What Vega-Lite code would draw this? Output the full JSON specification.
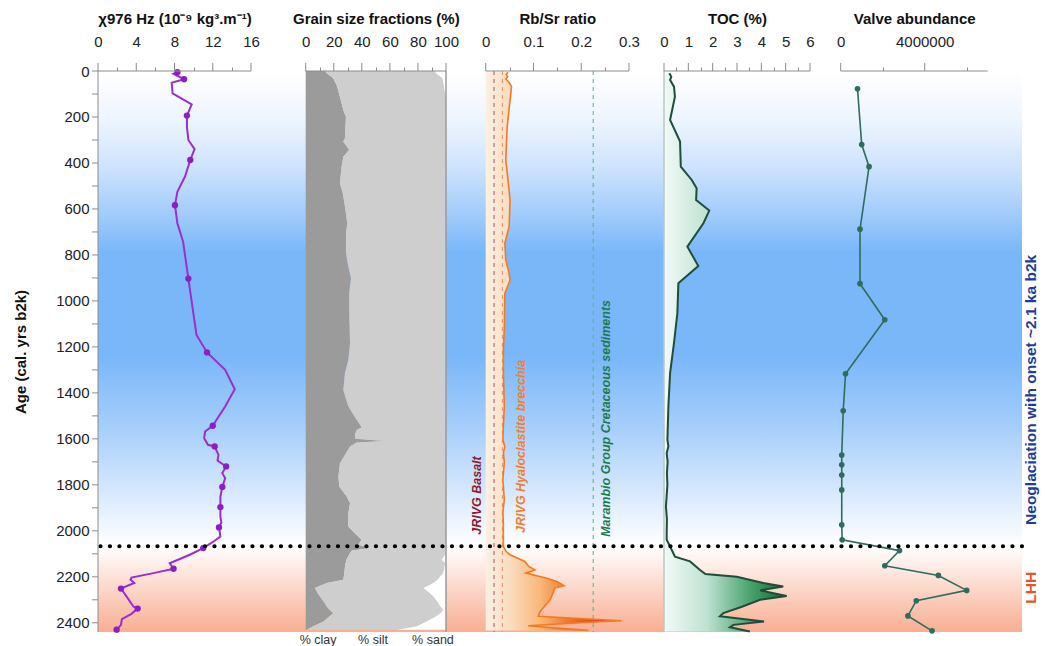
{
  "$schema": "https://vega.github.io/schema/vega-lite/v6.json",
  "width": 924,
  "height": 561,
  "autosize": {"type": "none"},
  "padding": {"left": 98, "top": 71, "right": 23, "bottom": 14},
  "background": "white",
  "config": {
    "font": "Liberation Sans",
    "view": {"stroke": null},
    "axis": {
      "grid": false,
      "zindex": 1,
      "domainColor": "#8c8c8c",
      "tickColor": "#8c8c8c",
      "labelFontSize": 15,
      "labelColor": "#222222",
      "titleFontSize": 15,
      "titleFontWeight": "bold",
      "titleColor": "#111111",
      "labelFlush": false
    }
  },
  "datasets": {
    "zones": [
      {"zone": "Neoglaciation", "start": 0, "end": 2067},
      {"zone": "LHH", "start": 2067, "end": 2440}
    ],
    "chi_line": [
      {"age": 5, "chi": 8.3}, {"age": 12, "chi": 7.9}, {"age": 36, "chi": 9.0}, {"age": 51, "chi": 7.7},
      {"age": 97, "chi": 7.8}, {"age": 145, "chi": 9.8}, {"age": 194, "chi": 9.3}, {"age": 242, "chi": 9.3},
      {"age": 300, "chi": 9.45}, {"age": 340, "chi": 10.1}, {"age": 387, "chi": 9.65}, {"age": 459, "chi": 9.1},
      {"age": 525, "chi": 8.3}, {"age": 584, "chi": 8.05}, {"age": 662, "chi": 8.3}, {"age": 742, "chi": 8.9},
      {"age": 903, "chi": 9.45}, {"age": 1148, "chi": 10.3}, {"age": 1224, "chi": 11.4}, {"age": 1300, "chi": 13.3},
      {"age": 1384, "chi": 14.3}, {"age": 1459, "chi": 13.3}, {"age": 1510, "chi": 12.5}, {"age": 1543, "chi": 12.0},
      {"age": 1568, "chi": 11.2}, {"age": 1597, "chi": 11.1}, {"age": 1626, "chi": 11.5}, {"age": 1633, "chi": 12.2},
      {"age": 1670, "chi": 12.6}, {"age": 1694, "chi": 12.5}, {"age": 1720, "chi": 13.4}, {"age": 1749, "chi": 13.0},
      {"age": 1771, "chi": 13.3}, {"age": 1809, "chi": 13.0}, {"age": 1851, "chi": 12.8}, {"age": 1897, "chi": 12.8},
      {"age": 1938, "chi": 12.8}, {"age": 1964, "chi": 12.9}, {"age": 1985, "chi": 12.65}, {"age": 2025, "chi": 12.8},
      {"age": 2043, "chi": 12.2}, {"age": 2075, "chi": 11.0}, {"age": 2104, "chi": 9.6}, {"age": 2141, "chi": 7.5},
      {"age": 2165, "chi": 7.9}, {"age": 2184, "chi": 5.8}, {"age": 2203, "chi": 3.5}, {"age": 2213, "chi": 3.4},
      {"age": 2227, "chi": 3.8}, {"age": 2251, "chi": 2.4}, {"age": 2286, "chi": 3.0}, {"age": 2329, "chi": 3.7},
      {"age": 2338, "chi": 4.15}, {"age": 2361, "chi": 3.5}, {"age": 2384, "chi": 2.5}, {"age": 2409, "chi": 2.4},
      {"age": 2430, "chi": 1.95}
    ],
    "chi_samples": [
      {"age": 5, "chi": 8.3}, {"age": 36, "chi": 9.0}, {"age": 194, "chi": 9.3}, {"age": 387, "chi": 9.65},
      {"age": 584, "chi": 8.05}, {"age": 903, "chi": 9.45}, {"age": 1224, "chi": 11.4}, {"age": 1543, "chi": 12.0},
      {"age": 1633, "chi": 12.2}, {"age": 1720, "chi": 13.4}, {"age": 1809, "chi": 13.0}, {"age": 1897, "chi": 12.8},
      {"age": 1985, "chi": 12.65}, {"age": 2075, "chi": 11.0}, {"age": 2165, "chi": 7.9}, {"age": 2251, "chi": 2.4},
      {"age": 2338, "chi": 4.15}, {"age": 2430, "chi": 1.95}
    ],
    "grain": [
      {"age": 0, "clay": 14, "silt": 78, "sand": 8},
      {"age": 10, "clay": 15, "silt": 78, "sand": 7},
      {"age": 30, "clay": 19.5, "silt": 78, "sand": 2.5},
      {"age": 60, "clay": 22, "silt": 76.5, "sand": 1.5},
      {"age": 80, "clay": 23, "silt": 76, "sand": 1},
      {"age": 112, "clay": 24.4, "silt": 75.6, "sand": 0},
      {"age": 170, "clay": 26.8, "silt": 73.2, "sand": 0},
      {"age": 199, "clay": 28.7, "silt": 71.3, "sand": 0},
      {"age": 293, "clay": 28, "silt": 72, "sand": 0},
      {"age": 307, "clay": 26.8, "silt": 73.2, "sand": 0},
      {"age": 343, "clay": 31, "silt": 69, "sand": 0},
      {"age": 373, "clay": 26.8, "silt": 73.2, "sand": 0},
      {"age": 416, "clay": 25.6, "silt": 74.4, "sand": 0},
      {"age": 488, "clay": 24.4, "silt": 75.6, "sand": 0},
      {"age": 532, "clay": 26.4, "silt": 73.6, "sand": 0},
      {"age": 590, "clay": 28, "silt": 72, "sand": 0},
      {"age": 662, "clay": 29.6, "silt": 70.4, "sand": 0},
      {"age": 706, "clay": 28.7, "silt": 71.3, "sand": 0},
      {"age": 793, "clay": 28.7, "silt": 71.3, "sand": 0},
      {"age": 851, "clay": 30.4, "silt": 69.6, "sand": 0},
      {"age": 901, "clay": 32.3, "silt": 67.7, "sand": 0},
      {"age": 966, "clay": 31, "silt": 69, "sand": 0},
      {"age": 1053, "clay": 31, "silt": 69, "sand": 0},
      {"age": 1184, "clay": 31.6, "silt": 68.4, "sand": 0},
      {"age": 1256, "clay": 30.4, "silt": 69.6, "sand": 0},
      {"age": 1314, "clay": 28, "silt": 72, "sand": 0},
      {"age": 1387, "clay": 26.8, "silt": 73.2, "sand": 0},
      {"age": 1459, "clay": 30.4, "silt": 69.6, "sand": 0},
      {"age": 1517, "clay": 36.3, "silt": 63.7, "sand": 0},
      {"age": 1549, "clay": 39.9, "silt": 60.1, "sand": 0},
      {"age": 1561, "clay": 36.3, "silt": 63.7, "sand": 0},
      {"age": 1583, "clay": 35, "silt": 65, "sand": 0},
      {"age": 1600, "clay": 35.5, "silt": 64.5, "sand": 0},
      {"age": 1609, "clay": 56.4, "silt": 43.6, "sand": 0},
      {"age": 1616, "clay": 36.3, "silt": 63.7, "sand": 0},
      {"age": 1633, "clay": 31.6, "silt": 68.4, "sand": 0},
      {"age": 1706, "clay": 24.4, "silt": 75.6, "sand": 0},
      {"age": 1764, "clay": 23.3, "silt": 76.7, "sand": 0},
      {"age": 1807, "clay": 23.9, "silt": 76.1, "sand": 0},
      {"age": 1851, "clay": 29.2, "silt": 70.8, "sand": 0},
      {"age": 1880, "clay": 31.6, "silt": 68.4, "sand": 0},
      {"age": 1923, "clay": 30.4, "silt": 69.6, "sand": 0},
      {"age": 1981, "clay": 30.4, "silt": 69.6, "sand": 0},
      {"age": 2010, "clay": 35, "silt": 65, "sand": 0},
      {"age": 2039, "clay": 39.9, "silt": 60.1, "sand": 0},
      {"age": 2061, "clay": 37.5, "silt": 62.5, "sand": 0},
      {"age": 2075, "clay": 47, "silt": 53, "sand": 0},
      {"age": 2085, "clay": 33, "silt": 67, "sand": 0},
      {"age": 2097, "clay": 31.6, "silt": 68.4, "sand": 0},
      {"age": 2126, "clay": 29, "silt": 68, "sand": 3},
      {"age": 2140, "clay": 28.5, "silt": 71, "sand": 0.5},
      {"age": 2155, "clay": 28, "silt": 71, "sand": 1},
      {"age": 2184, "clay": 27.5, "silt": 70.5, "sand": 2},
      {"age": 2213, "clay": 26.8, "silt": 67.2, "sand": 6},
      {"age": 2227, "clay": 15, "silt": 76, "sand": 9},
      {"age": 2249, "clay": 6.6, "silt": 77.4, "sand": 16},
      {"age": 2271, "clay": 8.5, "silt": 80.1, "sand": 11.4},
      {"age": 2286, "clay": 10.2, "silt": 80.8, "sand": 9},
      {"age": 2314, "clay": 13.5, "silt": 81, "sand": 5.5},
      {"age": 2329, "clay": 15, "silt": 81, "sand": 4},
      {"age": 2343, "clay": 17, "silt": 81, "sand": 2},
      {"age": 2358, "clay": 19.7, "silt": 76.3, "sand": 4},
      {"age": 2372, "clay": 17, "silt": 76, "sand": 7},
      {"age": 2394, "clay": 12.6, "silt": 73.4, "sand": 14},
      {"age": 2416, "clay": 5, "silt": 74, "sand": 21},
      {"age": 2430, "clay": 0.7, "silt": 64.3, "sand": 35}
    ],
    "rbsr": [
      {"age": 5, "rbsr": 0.047}, {"age": 15, "rbsr": 0.043}, {"age": 25, "rbsr": 0.046}, {"age": 35, "rbsr": 0.042},
      {"age": 50, "rbsr": 0.049}, {"age": 68, "rbsr": 0.054}, {"age": 126, "rbsr": 0.051}, {"age": 242, "rbsr": 0.045},
      {"age": 387, "rbsr": 0.042}, {"age": 480, "rbsr": 0.047}, {"age": 561, "rbsr": 0.051}, {"age": 677, "rbsr": 0.049},
      {"age": 749, "rbsr": 0.04}, {"age": 822, "rbsr": 0.042}, {"age": 880, "rbsr": 0.049}, {"age": 909, "rbsr": 0.051},
      {"age": 967, "rbsr": 0.04}, {"age": 1112, "rbsr": 0.039}, {"age": 1213, "rbsr": 0.037}, {"age": 1314, "rbsr": 0.037},
      {"age": 1459, "rbsr": 0.039}, {"age": 1540, "rbsr": 0.037}, {"age": 1604, "rbsr": 0.036}, {"age": 1633, "rbsr": 0.04},
      {"age": 1662, "rbsr": 0.037}, {"age": 1700, "rbsr": 0.039}, {"age": 1778, "rbsr": 0.036}, {"age": 1865, "rbsr": 0.039},
      {"age": 1920, "rbsr": 0.036}, {"age": 1967, "rbsr": 0.037}, {"age": 2040, "rbsr": 0.037}, {"age": 2068, "rbsr": 0.037},
      {"age": 2090, "rbsr": 0.043}, {"age": 2104, "rbsr": 0.051}, {"age": 2133, "rbsr": 0.082}, {"age": 2155, "rbsr": 0.09},
      {"age": 2170, "rbsr": 0.103}, {"age": 2184, "rbsr": 0.084}, {"age": 2206, "rbsr": 0.128}, {"age": 2220, "rbsr": 0.149},
      {"age": 2239, "rbsr": 0.164}, {"age": 2249, "rbsr": 0.145}, {"age": 2300, "rbsr": 0.135}, {"age": 2351, "rbsr": 0.114},
      {"age": 2372, "rbsr": 0.11}, {"age": 2381, "rbsr": 0.197}, {"age": 2391, "rbsr": 0.284}, {"age": 2400, "rbsr": 0.197},
      {"age": 2413, "rbsr": 0.089}, {"age": 2423, "rbsr": 0.149}, {"age": 2433, "rbsr": 0.215}
    ],
    "toc": [
      {"age": 10, "toc": 0.22}, {"age": 25, "toc": 0.3}, {"age": 39, "toc": 0.25}, {"age": 68, "toc": 0.41},
      {"age": 112, "toc": 0.45}, {"age": 213, "toc": 0.25}, {"age": 307, "toc": 0.66}, {"age": 416, "toc": 0.69},
      {"age": 474, "toc": 1.14}, {"age": 510, "toc": 1.34}, {"age": 561, "toc": 1.32}, {"age": 607, "toc": 1.86},
      {"age": 662, "toc": 1.62}, {"age": 764, "toc": 0.96}, {"age": 848, "toc": 1.41}, {"age": 923, "toc": 0.59},
      {"age": 1053, "toc": 0.55}, {"age": 1184, "toc": 0.41}, {"age": 1314, "toc": 0.25}, {"age": 1459, "toc": 0.18},
      {"age": 1604, "toc": 0.14}, {"age": 1633, "toc": 0.18}, {"age": 1662, "toc": 0.11}, {"age": 1700, "toc": 0.15},
      {"age": 1749, "toc": 0.12}, {"age": 1800, "toc": 0.14}, {"age": 1894, "toc": 0.08}, {"age": 1950, "toc": 0.12},
      {"age": 2010, "toc": 0.11}, {"age": 2039, "toc": 0.11}, {"age": 2068, "toc": 0.25}, {"age": 2090, "toc": 0.35},
      {"age": 2112, "toc": 0.45}, {"age": 2133, "toc": 1.07}, {"age": 2170, "toc": 1.48}, {"age": 2188, "toc": 1.7},
      {"age": 2200, "toc": 2.99}, {"age": 2227, "toc": 4.08}, {"age": 2242, "toc": 4.9}, {"age": 2259, "toc": 3.95},
      {"age": 2283, "toc": 5.04}, {"age": 2300, "toc": 3.95}, {"age": 2330, "toc": 3.2}, {"age": 2358, "toc": 2.44},
      {"age": 2372, "toc": 2.3}, {"age": 2394, "toc": 4.11}, {"age": 2409, "toc": 2.85}, {"age": 2419, "toc": 2.71},
      {"age": 2438, "toc": 3.53}
    ],
    "valves": [
      {"age": 77, "valves": 800000}, {"age": 320, "valves": 1000000}, {"age": 416, "valves": 1350000},
      {"age": 688, "valves": 920000}, {"age": 925, "valves": 920000}, {"age": 1082, "valves": 2100000},
      {"age": 1317, "valves": 230000}, {"age": 1478, "valves": 120000}, {"age": 1670, "valves": 50000},
      {"age": 1713, "valves": 50000}, {"age": 1757, "valves": 50000}, {"age": 1822, "valves": 50000},
      {"age": 1974, "valves": 50000}, {"age": 2039, "valves": 70000}, {"age": 2086, "valves": 2800000},
      {"age": 2152, "valves": 2100000}, {"age": 2194, "valves": 4650000}, {"age": 2259, "valves": 6000000},
      {"age": 2304, "valves": 3600000}, {"age": 2370, "valves": 3200000}, {"age": 2435, "valves": 4350000}
    ],
    "age_ticks": [
      {"tick": 0}, {"tick": 100}, {"tick": 200}, {"tick": 300}, {"tick": 400}, {"tick": 500}, {"tick": 600},
      {"tick": 700}, {"tick": 800}, {"tick": 900}, {"tick": 1000}, {"tick": 1100}, {"tick": 1200}, {"tick": 1300},
      {"tick": 1400}, {"tick": 1500}, {"tick": 1600}, {"tick": 1700}, {"tick": 1800}, {"tick": 1900}, {"tick": 2000},
      {"tick": 2100}, {"tick": 2200}, {"tick": 2300}, {"tick": 2400}
    ]
  },
  "resolve": {"scale": {"x": "independent"}, "axis": {"y": "independent"}},
  "layer": [
    {
      "data": {"name": "zones"},
      "transform": [{"filter": "datum.zone === 'Neoglaciation'"}],
      "mark": {"type": "rect", "color": {"gradient": "linear", "x1": 0, "y1": 0, "x2": 0, "y2": 1, "stops": [
        {"offset": 0, "color": "#ffffff"}, {"offset": 0.1, "color": "#eef5fe"}, {"offset": 0.2, "color": "#cfe4fd"},
        {"offset": 0.3, "color": "#a2ccfb"}, {"offset": 0.38, "color": "#7ab7f9"}, {"offset": 0.6, "color": "#7ab7f9"},
        {"offset": 0.75, "color": "#a6cefb"}, {"offset": 0.9, "color": "#dcebfd"}, {"offset": 1, "color": "#ffffff"}]}},
      "encoding": {
        "y": {"field": "start", "type": "quantitative",
          "scale": {"domain": [0, 2440], "reverse": true, "nice": false, "zero": false},
          "axis": {"orient": "left", "values": [0,200,400,600,800,1000,1200,1400,1600,1800,2000,2200,2400],
            "format": "d", "ticks": false, "domain": false, "labelPadding": 9, "title": "Age (cal. yrs b2k)", "titlePadding": 27}},
        "y2": {"field": "end"}
      }
    },
    {
      "data": {"name": "zones"},
      "transform": [{"filter": "datum.zone === 'LHH'"}],
      "mark": {"type": "rect", "color": {"gradient": "linear", "x1": 0, "y1": 0, "x2": 0, "y2": 1, "stops": [
        {"offset": 0, "color": "#ffffff"}, {"offset": 1, "color": "#f8ae92"}]}},
      "encoding": {
        "y": {"field": "start", "type": "quantitative", "axis": null},
        "y2": {"field": "end"}
      }
    },
    {
      "data": {"name": "chi_line"},
      "mark": {"type": "line", "color": "#9a2ed1", "strokeWidth": 2},
      "encoding": {
        "y": {"field": "age", "type": "quantitative", "axis": null},
        "x": {"field": "chi", "type": "quantitative", "scale": {"domain": [0, 16], "range": [0, 153], "nice": false},
          "axis": {"orient": "top", "values": [2, 6, 10, 14], "tickSize": 4, "labels": false, "domain": false, "title": null}},
        "order": {"field": "age", "type": "quantitative"}
      }
    },
    {
      "data": {"name": "chi_samples"},
      "mark": {"type": "point", "filled": true, "color": "#8a1fc4", "size": 40, "opacity": 1},
      "encoding": {
        "y": {"field": "age", "type": "quantitative", "axis": null},
        "x": {"field": "chi", "type": "quantitative", "scale": {"domain": [0, 16], "range": [0, 153], "nice": false},
          "axis": {"orient": "top", "values": [0, 4, 8, 12, 16], "ticks": false, "domain": false, "labelPadding": 22,
            "title": "χ976 Hz (10⁻⁹ kg³.m⁻¹)", "titlePadding": 8}}
      }
    },
    {
      "data": {"name": "grain"},
      "transform": [
        {"fold": ["clay", "silt", "sand"], "as": ["fraction", "pct"]},
        {"stack": "pct", "groupby": ["age"], "as": ["x0", "x1"]}
      ],
      "mark": {"type": "area", "orient": "horizontal"},
      "encoding": {
        "y": {"field": "age", "type": "quantitative", "axis": null},
        "x": {"field": "x0", "type": "quantitative", "stack": null, "scale": {"domain": [0, 100], "range": [207.7, 348], "nice": false},
          "axis": {"orient": "top", "values": [0, 20, 40, 60, 80, 100], "ticks": false, "domain": false, "labelPadding": 22, "labelOverlap": false,
            "title": "Grain size fractions (%)", "titlePadding": 8}},
        "x2": {"field": "x1"},
        "color": {"field": "fraction", "type": "nominal", "scale": {"domain": ["clay", "silt", "sand"], "range": ["#9b9b9b", "#cecece", "#ffffff"]}, "legend": null}
      }
    },
    {
      "data": {"values": [{}]},
      "mark": {"type": "rule", "color": "#9a9a9a", "strokeWidth": 1.5},
      "encoding": {
        "x": {"datum": 100, "type": "quantitative", "scale": {"domain": [0, 100], "range": [207.7, 348], "nice": false},
          "axis": {"orient": "top", "values": [10, 30, 50, 70, 90], "tickSize": 4, "labels": false, "domain": false, "title": null}}
      }
    },
    {
      "data": {"name": "rbsr"},
      "mark": {"type": "area", "orient": "horizontal", "color": {"gradient": "linear", "x1": 0, "y1": 0, "x2": 1, "y2": 0, "stops": [
        {"offset": 0, "color": "#fdf0e2"}, {"offset": 0.18, "color": "#fbdcbf"}, {"offset": 0.4, "color": "#f8b878"},
        {"offset": 0.6, "color": "#ee7a35"}, {"offset": 1, "color": "#c41e0e"}]}},
      "encoding": {
        "y": {"field": "age", "type": "quantitative", "axis": null},
        "x": {"field": "rbsr", "type": "quantitative", "stack": null, "scale": {"domain": [0, 0.3], "range": [387.7, 531], "nice": false, "zero": true},
          "axis": {"orient": "top", "values": [0, 0.1, 0.2, 0.3], "labelExpr": "datum.value == 0 ? '0' : format(datum.value, '.1f')", "ticks": false, "domain": false, "labelPadding": 22,
            "title": "Rb/Sr ratio", "titlePadding": 8}}
      }
    },
    {
      "data": {"values": [{}]},
      "mark": {"type": "rule", "color": "#b8506a", "strokeWidth": 1, "strokeDash": [4, 4]},
      "encoding": {
        "x": {"datum": 0.0174, "type": "quantitative", "scale": {"domain": [0, 0.3], "range": [387.7, 531], "nice": false},
          "axis": {"orient": "top", "values": [0.05, 0.15, 0.25], "tickSize": 4, "labels": false, "domain": false, "title": null}}
      }
    },
    {
      "data": {"values": [{}]},
      "mark": {"type": "rule", "color": "#e8906e", "strokeWidth": 1, "strokeDash": [4, 4]},
      "encoding": {
        "x": {"datum": 0.035, "type": "quantitative", "scale": {"domain": [0, 0.3], "range": [387.7, 531], "nice": false}, "axis": null}
      }
    },
    {
      "data": {"values": [{}]},
      "mark": {"type": "rule", "color": "#5aae8a", "strokeWidth": 1, "strokeDash": [4, 4]},
      "encoding": {
        "x": {"datum": 0.225, "type": "quantitative", "scale": {"domain": [0, 0.3], "range": [387.7, 531], "nice": false}, "axis": null}
      }
    },
    {
      "data": {"name": "rbsr"},
      "mark": {"type": "line", "color": "#f47a1f", "strokeWidth": 1.6},
      "encoding": {
        "y": {"field": "age", "type": "quantitative", "axis": null},
        "x": {"field": "rbsr", "type": "quantitative", "scale": {"domain": [0, 0.3], "range": [387.7, 531], "nice": false}, "axis": null},
        "order": {"field": "age", "type": "quantitative"}
      }
    },
    {
      "data": {"values": [{}]},
      "mark": {"type": "text", "text": "JRIVG Basalt", "angle": 270, "align": "left", "baseline": "middle", "fontSize": 12.5, "fontWeight": "bold", "fontStyle": "italic", "color": "#8b1c2c"},
      "encoding": {
        "x": {"datum": -0.0176, "type": "quantitative", "scale": {"domain": [0, 0.3], "range": [387.7, 531], "nice": false}, "axis": null},
        "y": {"datum": 2017, "type": "quantitative", "axis": null}
      }
    },
    {
      "data": {"values": [{}]},
      "mark": {"type": "text", "text": "JRIVG Hyaloclastite brecchia", "angle": 270, "align": "left", "baseline": "middle", "fontSize": 12.5, "fontWeight": "bold", "fontStyle": "italic", "color": "#f08030"},
      "encoding": {
        "x": {"datum": 0.073, "type": "quantitative", "scale": {"domain": [0, 0.3], "range": [387.7, 531], "nice": false}, "axis": null},
        "y": {"datum": 2009, "type": "quantitative", "axis": null}
      }
    },
    {
      "data": {"values": [{}]},
      "mark": {"type": "text", "text": "Marambio Group Cretaceous sediments", "angle": 270, "align": "left", "baseline": "middle", "fontSize": 12.5, "fontWeight": "bold", "fontStyle": "italic", "color": "#1e7a50"},
      "encoding": {
        "x": {"datum": 0.2517, "type": "quantitative", "scale": {"domain": [0, 0.3], "range": [387.7, 531], "nice": false}, "axis": null},
        "y": {"datum": 2026, "type": "quantitative", "axis": null}
      }
    },
    {
      "data": {"name": "toc"},
      "mark": {"type": "area", "orient": "horizontal", "color": {"gradient": "linear", "x1": 0, "y1": 0, "x2": 1, "y2": 0, "stops": [
        {"offset": 0, "color": "#f2faf8"}, {"offset": 0.35, "color": "#bfe2d1"}, {"offset": 0.7, "color": "#4aa36f"}, {"offset": 1, "color": "#0b6a2c"}]}},
      "encoding": {
        "y": {"field": "age", "type": "quantitative", "axis": null},
        "x": {"field": "toc", "type": "quantitative", "stack": null, "scale": {"domain": [0, 6], "range": [566, 712], "nice": false, "zero": true},
          "axis": {"orient": "top", "values": [0.5, 1.5, 2.5, 3.5, 4.5, 5.5], "tickSize": 4, "labels": false, "domain": false, "title": null}}
      }
    },
    {
      "data": {"values": [{}]},
      "mark": {"type": "rule", "color": "#b9c9c5", "strokeWidth": 1.5},
      "encoding": {
        "x": {"datum": 0, "type": "quantitative", "scale": {"domain": [0, 6], "range": [566, 712], "nice": false},
          "axis": {"orient": "top", "values": [0, 1, 2, 3, 4, 5, 6], "ticks": false, "domain": false, "labelPadding": 22,
            "title": "TOC (%)", "titlePadding": 8}}
      }
    },
    {
      "data": {"name": "toc"},
      "mark": {"type": "line", "color": "#1e4d3c", "strokeWidth": 2},
      "encoding": {
        "y": {"field": "age", "type": "quantitative", "axis": null},
        "x": {"field": "toc", "type": "quantitative", "scale": {"domain": [0, 6], "range": [566, 712], "nice": false}, "axis": null},
        "order": {"field": "age", "type": "quantitative"}
      }
    },
    {
      "data": {"name": "valves"},
      "mark": {"type": "line", "color": "#2f6b5f", "strokeWidth": 1.6, "point": {"filled": true, "size": 32, "color": "#2f6b5f"}},
      "encoding": {
        "y": {"field": "age", "type": "quantitative", "axis": null},
        "x": {"field": "valves", "type": "quantitative", "scale": {"domain": [0, 7000000], "range": [742.7, 889.7], "nice": false},
          "axis": {"orient": "top", "values": [0, 4000000], "format": "d", "ticks": false, "domain": false, "labelPadding": 22,
            "title": "Valve abundance", "titlePadding": 8}},
        "order": {"field": "age", "type": "quantitative"}
      }
    },
    {
      "data": {"values": [{}]},
      "mark": {"type": "text", "text": "Neoglaciation with onset ~2.1 ka b2k", "angle": 270, "align": "center", "baseline": "middle", "fontSize": 15.5, "fontWeight": "bold", "color": "#1c3c9e"},
      "encoding": {
        "x": {"datum": 9060000, "type": "quantitative", "scale": {"domain": [0, 7000000], "range": [742.7, 889.7], "nice": false},
          "axis": {"orient": "top", "values": [2000000, 6000000], "tickSize": 4, "labels": false, "domain": false, "title": null}},
        "y": {"datum": 1387, "type": "quantitative", "axis": null}
      }
    },
    {
      "data": {"values": [{}]},
      "mark": {"type": "text", "text": "LHH", "angle": 270, "align": "center", "baseline": "middle", "fontSize": 15.5, "fontWeight": "bold", "color": "#e8522a"},
      "encoding": {
        "x": {"datum": 9060000, "type": "quantitative", "scale": {"domain": [0, 7000000], "range": [742.7, 889.7], "nice": false}, "axis": null},
        "y": {"datum": 2248, "type": "quantitative", "axis": null}
      }
    },
    {
      "data": {"values": [{}]},
      "mark": {"type": "rule", "color": "#000000", "strokeWidth": 4.2, "strokeDash": [0.1, 9.4], "strokeCap": "round"},
      "encoding": {"y": {"datum": 2067, "type": "quantitative", "axis": null}}
    },
    {
      "data": {"values": [{}]},
      "mark": {"type": "rule", "color": "#8c8c8c", "strokeWidth": 1},
      "encoding": {
        "x": {"datum": 0, "type": "quantitative", "scale": {"domain": [0, 16], "range": [0, 153], "nice": false}, "axis": null}
      }
    },
    {
      "data": {"name": "age_ticks"},
      "mark": {"type": "rule", "color": "#8c8c8c", "strokeWidth": 1},
      "encoding": {
        "y": {"field": "tick", "type": "quantitative", "axis": null},
        "x": {"datum": -0.63, "type": "quantitative", "scale": {"domain": [0, 16], "range": [0, 153], "nice": false}, "axis": null},
        "x2": {"datum": 0}
      }
    },
    {
      "data": {"values": [{"tick": 0}, {"tick": 4}, {"tick": 8}, {"tick": 12}, {"tick": 16}]},
      "mark": {"type": "rule", "color": "#8c8c8c", "strokeWidth": 1},
      "encoding": {
        "x": {"field": "tick", "type": "quantitative", "scale": {"domain": [0, 16], "range": [0, 153], "nice": false}, "axis": null},
        "y": {"datum": -35, "type": "quantitative", "axis": null},
        "y2": {"datum": 0}
      }
    },
    {
      "data": {"values": [{}]},
      "mark": {"type": "rule", "color": "#8c8c8c", "strokeWidth": 1},
      "encoding": {
        "x": {"datum": 0, "type": "quantitative", "scale": {"domain": [0, 16], "range": [0, 153], "nice": false}, "axis": null},
        "x2": {"datum": 16},
        "y": {"datum": 0, "type": "quantitative", "axis": null}
      }
    },
    {
      "data": {"values": [{"tick": 0}, {"tick": 20}, {"tick": 40}, {"tick": 60}, {"tick": 80}, {"tick": 100}]},
      "mark": {"type": "rule", "color": "#8c8c8c", "strokeWidth": 1},
      "encoding": {
        "x": {"field": "tick", "type": "quantitative", "scale": {"domain": [0, 100], "range": [207.7, 348], "nice": false}, "axis": null},
        "y": {"datum": -35, "type": "quantitative", "axis": null},
        "y2": {"datum": 0}
      }
    },
    {
      "data": {"values": [{}]},
      "mark": {"type": "rule", "color": "#8c8c8c", "strokeWidth": 1},
      "encoding": {
        "x": {"datum": 0, "type": "quantitative", "scale": {"domain": [0, 100], "range": [207.7, 348], "nice": false}, "axis": null},
        "x2": {"datum": 100},
        "y": {"datum": 0, "type": "quantitative", "axis": null}
      }
    },
    {
      "data": {"values": [{"tick": 0}, {"tick": 0.1}, {"tick": 0.2}, {"tick": 0.3}]},
      "mark": {"type": "rule", "color": "#8c8c8c", "strokeWidth": 1},
      "encoding": {
        "x": {"field": "tick", "type": "quantitative", "scale": {"domain": [0, 0.3], "range": [387.7, 531], "nice": false}, "axis": null},
        "y": {"datum": -35, "type": "quantitative", "axis": null},
        "y2": {"datum": 0}
      }
    },
    {
      "data": {"values": [{}]},
      "mark": {"type": "rule", "color": "#8c8c8c", "strokeWidth": 1},
      "encoding": {
        "x": {"datum": 0, "type": "quantitative", "scale": {"domain": [0, 0.3], "range": [387.7, 531], "nice": false}, "axis": null},
        "x2": {"datum": 0.3},
        "y": {"datum": 0, "type": "quantitative", "axis": null}
      }
    },
    {
      "data": {"values": [{"tick": 0}, {"tick": 1}, {"tick": 2}, {"tick": 3}, {"tick": 4}, {"tick": 5}, {"tick": 6}]},
      "mark": {"type": "rule", "color": "#8c8c8c", "strokeWidth": 1},
      "encoding": {
        "x": {"field": "tick", "type": "quantitative", "scale": {"domain": [0, 6], "range": [566, 712], "nice": false}, "axis": null},
        "y": {"datum": -35, "type": "quantitative", "axis": null},
        "y2": {"datum": 0}
      }
    },
    {
      "data": {"values": [{}]},
      "mark": {"type": "rule", "color": "#8c8c8c", "strokeWidth": 1},
      "encoding": {
        "x": {"datum": 0, "type": "quantitative", "scale": {"domain": [0, 6], "range": [566, 712], "nice": false}, "axis": null},
        "x2": {"datum": 6},
        "y": {"datum": 0, "type": "quantitative", "axis": null}
      }
    },
    {
      "data": {"values": [{"tick": 0}, {"tick": 4000000}]},
      "mark": {"type": "rule", "color": "#8c8c8c", "strokeWidth": 1},
      "encoding": {
        "x": {"field": "tick", "type": "quantitative", "scale": {"domain": [0, 7000000], "range": [742.7, 889.7], "nice": false}, "axis": null},
        "y": {"datum": -35, "type": "quantitative", "axis": null},
        "y2": {"datum": 0}
      }
    },
    {
      "data": {"values": [{}]},
      "mark": {"type": "rule", "color": "#8c8c8c", "strokeWidth": 1},
      "encoding": {
        "x": {"datum": 0, "type": "quantitative", "scale": {"domain": [0, 7000000], "range": [742.7, 889.7], "nice": false}, "axis": null},
        "x2": {"datum": 7000000},
        "y": {"datum": 0, "type": "quantitative", "axis": null}
      }
    },
    {
      "data": {"values": [{}]},
      "mark": {"type": "text", "text": "% clay", "align": "center", "baseline": "middle", "fontSize": 12.5, "color": "#333333"},
      "encoding": {
        "x": {"datum": 8.8, "type": "quantitative", "scale": {"domain": [0, 100], "range": [207.7, 348], "nice": false}, "axis": null},
        "y": {"datum": 2474, "type": "quantitative", "axis": null}
      }
    },
    {
      "data": {"values": [{}]},
      "mark": {"type": "text", "text": "% silt", "align": "center", "baseline": "middle", "fontSize": 12.5, "color": "#333333"},
      "encoding": {
        "x": {"datum": 48, "type": "quantitative", "scale": {"domain": [0, 100], "range": [207.7, 348], "nice": false}, "axis": null},
        "y": {"datum": 2474, "type": "quantitative", "axis": null}
      }
    },
    {
      "data": {"values": [{}]},
      "mark": {"type": "text", "text": "% sand", "align": "center", "baseline": "middle", "fontSize": 12.5, "color": "#333333"},
      "encoding": {
        "x": {"datum": 90.7, "type": "quantitative", "scale": {"domain": [0, 100], "range": [207.7, 348], "nice": false}, "axis": null},
        "y": {"datum": 2474, "type": "quantitative", "axis": null}
      }
    }
  ]
}
